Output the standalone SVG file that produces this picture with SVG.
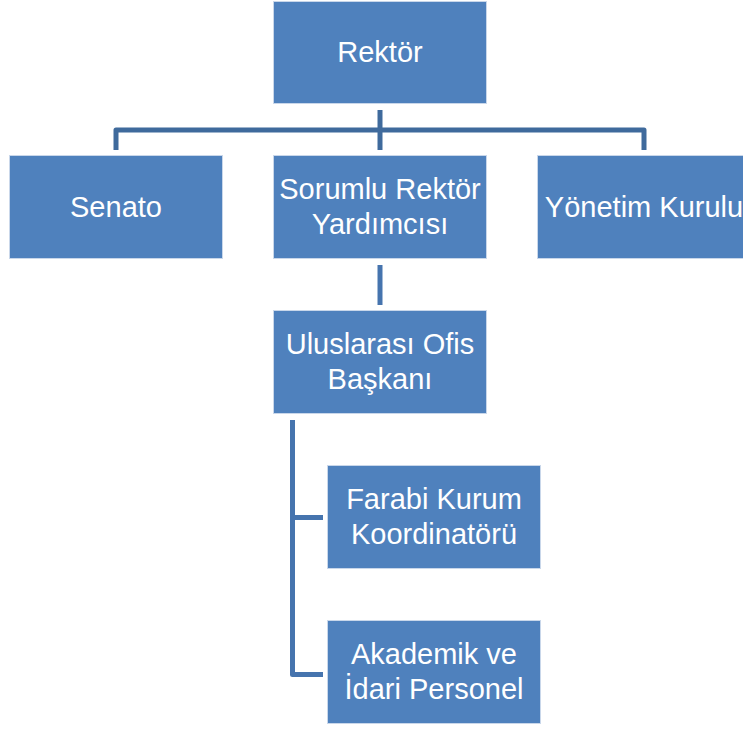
<svg xmlns="http://www.w3.org/2000/svg" width="743" height="729" viewBox="0 0 743 729">
<style>
.box{fill:#4F81BD;stroke:#C9D7EA;stroke-width:1}
.lbl{font-family:"Liberation Sans",Arial,sans-serif;font-size:29px;fill:#FFFFFF;text-anchor:middle}
.c1{fill:none;stroke:#3F6A9C;stroke-width:5;stroke-linejoin:round}
.c2{fill:none;stroke:#4674AE;stroke-width:5;stroke-linejoin:round}
</style>
<rect width="743" height="729" fill="#FFFFFF"/>
<g id="connectors">
<path class="c1" d="M380 110V130"/>
<path class="c1" d="M116 150V130H644V150"/>
<path class="c1" d="M380 130V150"/>
<path class="c2" d="M380 265V305"/>
<path class="c2" d="M292.5 420V674.5H323"/>
<path class="c2" d="M292.5 517.5H323"/>
</g>
<g id="rektor">
<rect class="box" x="273.5" y="1.5" width="213" height="102"/>
<text class="lbl" x="380" y="62">Rektör</text>
</g>
<g id="senato">
<rect class="box" x="9.5" y="155.5" width="213" height="103"/>
<text class="lbl" x="116" y="217">Senato</text>
</g>
<g id="sorumlu">
<rect class="box" x="273.5" y="155.5" width="213" height="103"/>
<text class="lbl" x="380" y="199">Sorumlu Rektör</text>
<text class="lbl" x="380" y="234">Yardımcısı</text>
</g>
<g id="yonetim">
<rect class="box" x="537.5" y="155.5" width="213" height="103"/>
<text class="lbl" x="644" y="217">Yönetim Kurulu</text>
</g>
<g id="uluslarasi">
<rect class="box" x="273.5" y="310.5" width="213" height="103"/>
<text class="lbl" x="380" y="354">Uluslarası Ofis</text>
<text class="lbl" x="380" y="389">Başkanı</text>
</g>
<g id="farabi">
<rect class="box" x="327.5" y="465.5" width="213" height="103"/>
<text class="lbl" x="434" y="509">Farabi Kurum</text>
<text class="lbl" x="434" y="544">Koordinatörü</text>
</g>
<g id="akademik">
<rect class="box" x="327.5" y="620.5" width="213" height="103"/>
<text class="lbl" x="434" y="664">Akademik ve</text>
<text class="lbl" x="434" y="699">İdari Personel</text>
</g>
</svg>
